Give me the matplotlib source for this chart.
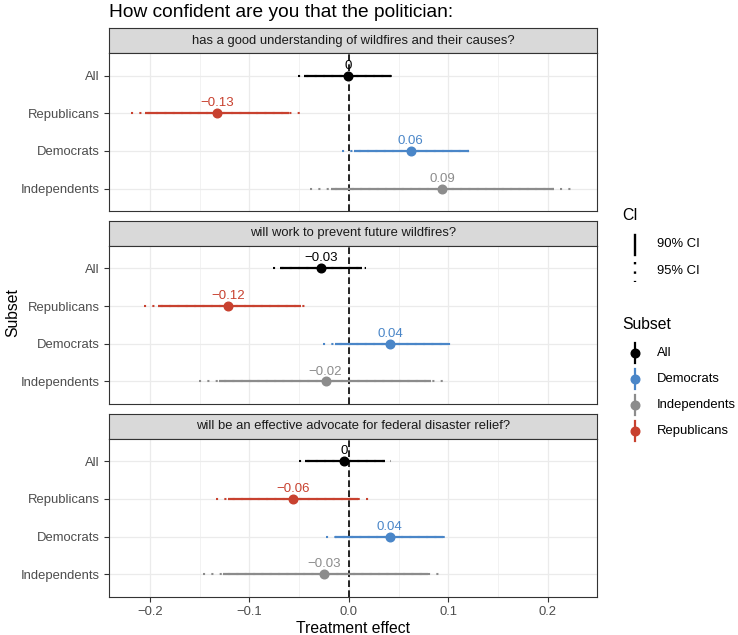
import matplotlib
matplotlib.use("Agg")
import matplotlib.pyplot as plt
from matplotlib.lines import Line2D

plt.rcParams['font.family'] = ['Liberation Sans', 'DejaVu Sans']

# Data
questions = ['has a good understanding of wildfires and their causes?',
             'will work to prevent future wildfires?',
             'will be an effective advocate for federal disaster relief?']
subsets = ['All', 'Republicans', 'Democrats', 'Independents']
legend_order = ['All', 'Democrats', 'Independents', 'Republicans']
colors = {'All': '#000000', 'Democrats': '#4A86C8',
          'Independents': '#8C8C8C', 'Republicans': '#C8412F'}

# estimates per question, in order of subsets
estimates = [[-0.001, -0.1326, 0.0622, 0.0937],
             [-0.0277, -0.1210, 0.0418, -0.0233],
             [-0.0045, -0.0561, 0.0410, -0.0252]]
ci90_low = [[-0.0445, -0.2047, 0.0048, -0.0176],
            [-0.0689, -0.1913, -0.0143, -0.1303],
            [-0.0438, -0.1210, -0.0136, -0.1266]]
ci90_high = [[0.0428, -0.0599, 0.1205, 0.2060],
             [0.0133, -0.0478, 0.0998, 0.0830],
             [0.0360, 0.0092, 0.0948, 0.0797]]
ci95_low = [[-0.0510, -0.2188, -0.0069, -0.0394],
            [-0.0763, -0.2054, -0.0260, -0.1510],
            [-0.0505, -0.1333, -0.0226, -0.1470]]
ci95_high = [[0.0495, -0.0465, 0.1266, 0.2260],
             [0.0173, -0.0404, 0.1070, 0.0988],
             [0.0420, 0.0223, 0.1021, 0.0948]]

xticks = [-0.2, -0.1, 0.0, 0.1, 0.2]
xticklabels = ['\u22120.2', '\u22120.1', '0.0', '0.1', '0.2']
minor_ticks = [-0.15, -0.05, 0.05, 0.15]


def fmt(v):
    r = round(v, 2)
    if r < 0:
        return '\u2212' + f'{abs(r):g}'
    return f'{abs(r):g}'


W, H = 738, 635
fig = plt.figure(figsize=(W / 100, H / 100), dpi=100)
fig.patch.set_facecolor('white')

border = '#333333'
left, right = 109, 597
period, strip_h, block_h = 192.8, 24.7, 183.0
top0 = 28.3

for k, q in enumerate(questions):
    t = top0 + period * k
    # strip
    sax = fig.add_axes([left / W, 1 - (t + strip_h) / H, (right - left) / W, strip_h / H])
    sax.set_facecolor('#D9D9D9')
    sax.set_xticks([])
    sax.set_yticks([])
    for sp in sax.spines.values():
        sp.set_color(border)
        sp.set_linewidth(0.8)
    sax.text(0.5, 0.5, q, ha='center', va='center', fontsize=9.4,
             color='#1A1A1A', transform=sax.transAxes)

    # panel
    ax = fig.add_axes([left / W, 1 - (t + block_h) / H, (right - left) / W,
                       (block_h - strip_h) / H])
    ax.set_facecolor('white')
    ax.set_xlim(-0.241, 0.2495)
    ax.set_ylim(4.6, 0.4)
    ax.set_xticks(xticks)
    ax.set_xticks(minor_ticks, minor=True)
    ax.set_yticks(range(1, len(subsets) + 1))
    ax.set_yticklabels(subsets)
    ax.grid(which='major', color='#EBEBEB', linewidth=0.9)
    ax.grid(which='minor', axis='x', color='#EBEBEB', linewidth=0.45)
    ax.set_axisbelow(True)
    for sp in ax.spines.values():
        sp.set_color(border)
        sp.set_linewidth(0.8)
    ax.tick_params(axis='both', which='major', length=3.8, width=0.8,
                   color=border, labelcolor='#4D4D4D', labelsize=9.4, pad=3)
    ax.tick_params(axis='x', which='minor', length=0)
    if k < len(questions) - 1:
        ax.tick_params(axis='x', which='major', length=0, labelbottom=False)
    else:
        ax.set_xticklabels(xticklabels)

    ax.axvline(0, color='black', linestyle=(0, (4, 2)), linewidth=1.2, zorder=2)

    for i, s in enumerate(subsets):
        y = i + 1
        c = colors[s]
        est = estimates[k][i]
        ax.plot([ci95_low[k][i], ci95_high[k][i]], [y, y], color=c,
                linewidth=1.5, linestyle=(0, (1, 3)), zorder=3)
        ax.plot([ci90_low[k][i], ci90_high[k][i]], [y, y], color=c,
                linewidth=1.6, solid_capstyle='butt', zorder=4)
        ax.plot(est, y, 'o', color=c, markersize=6.2, zorder=5)
        ax.annotate(fmt(est), (est, y), xytext=(0, 5), textcoords='offset points',
                    ha='center', va='baseline', fontsize=9.5, color=c, zorder=6)

# titles
fig.text(109 / W, 1 - 16.7 / H, 'How confident are you that the politician:',
         ha='left', va='baseline', fontsize=13.8, color='black')
fig.text(353 / W, 1 - 633 / H, 'Treatment effect', ha='center', va='baseline',
         fontsize=11.3, color='black')
fig.text(13 / W, 1 - 312.5 / H, 'Subset', ha='center', va='center',
         rotation=90, fontsize=11.3, color='black')

# legends
lax = fig.add_axes([0, 0, 1, 1], zorder=10)
lax.set_xlim(0, W)
lax.set_ylim(H, 0)
lax.axis('off')
lax.patch.set_alpha(0)

key_x, text_x, title_x = 635, 656.7, 622.7
lax.text(title_x, 215, 'CI', ha='left', va='center', fontsize=11.3)
ci_labels = ['90% CI', '95% CI']
ci_styles = ['-', (0, (1, 3))]
ci_y = [244.3, 271]
for lab, ls, yy in zip(ci_labels, ci_styles, ci_y):
    lax.add_line(Line2D([key_x, key_x], [yy - 9.5, yy + 11], color='black',
                        linewidth=1.7, linestyle=ls))
    lax.text(text_x, yy, lab, ha='left', va='center', fontsize=9.4)

lax.text(title_x, 324.3, 'Subset', ha='left', va='center', fontsize=11.3)
sub_y = [353.3, 379.3, 404.7, 430.7]
for s, yy in zip(legend_order, sub_y):
    lax.add_line(Line2D([key_x, key_x], [yy - 10, yy + 10], color=colors[s],
                        linewidth=1.6))
    lax.plot(key_x, yy, 'o', color=colors[s], markersize=6.2)
    lax.text(text_x, yy, s, ha='left', va='center', fontsize=9.4)

fig.savefig('out.png', dpi=100, facecolor='white')
